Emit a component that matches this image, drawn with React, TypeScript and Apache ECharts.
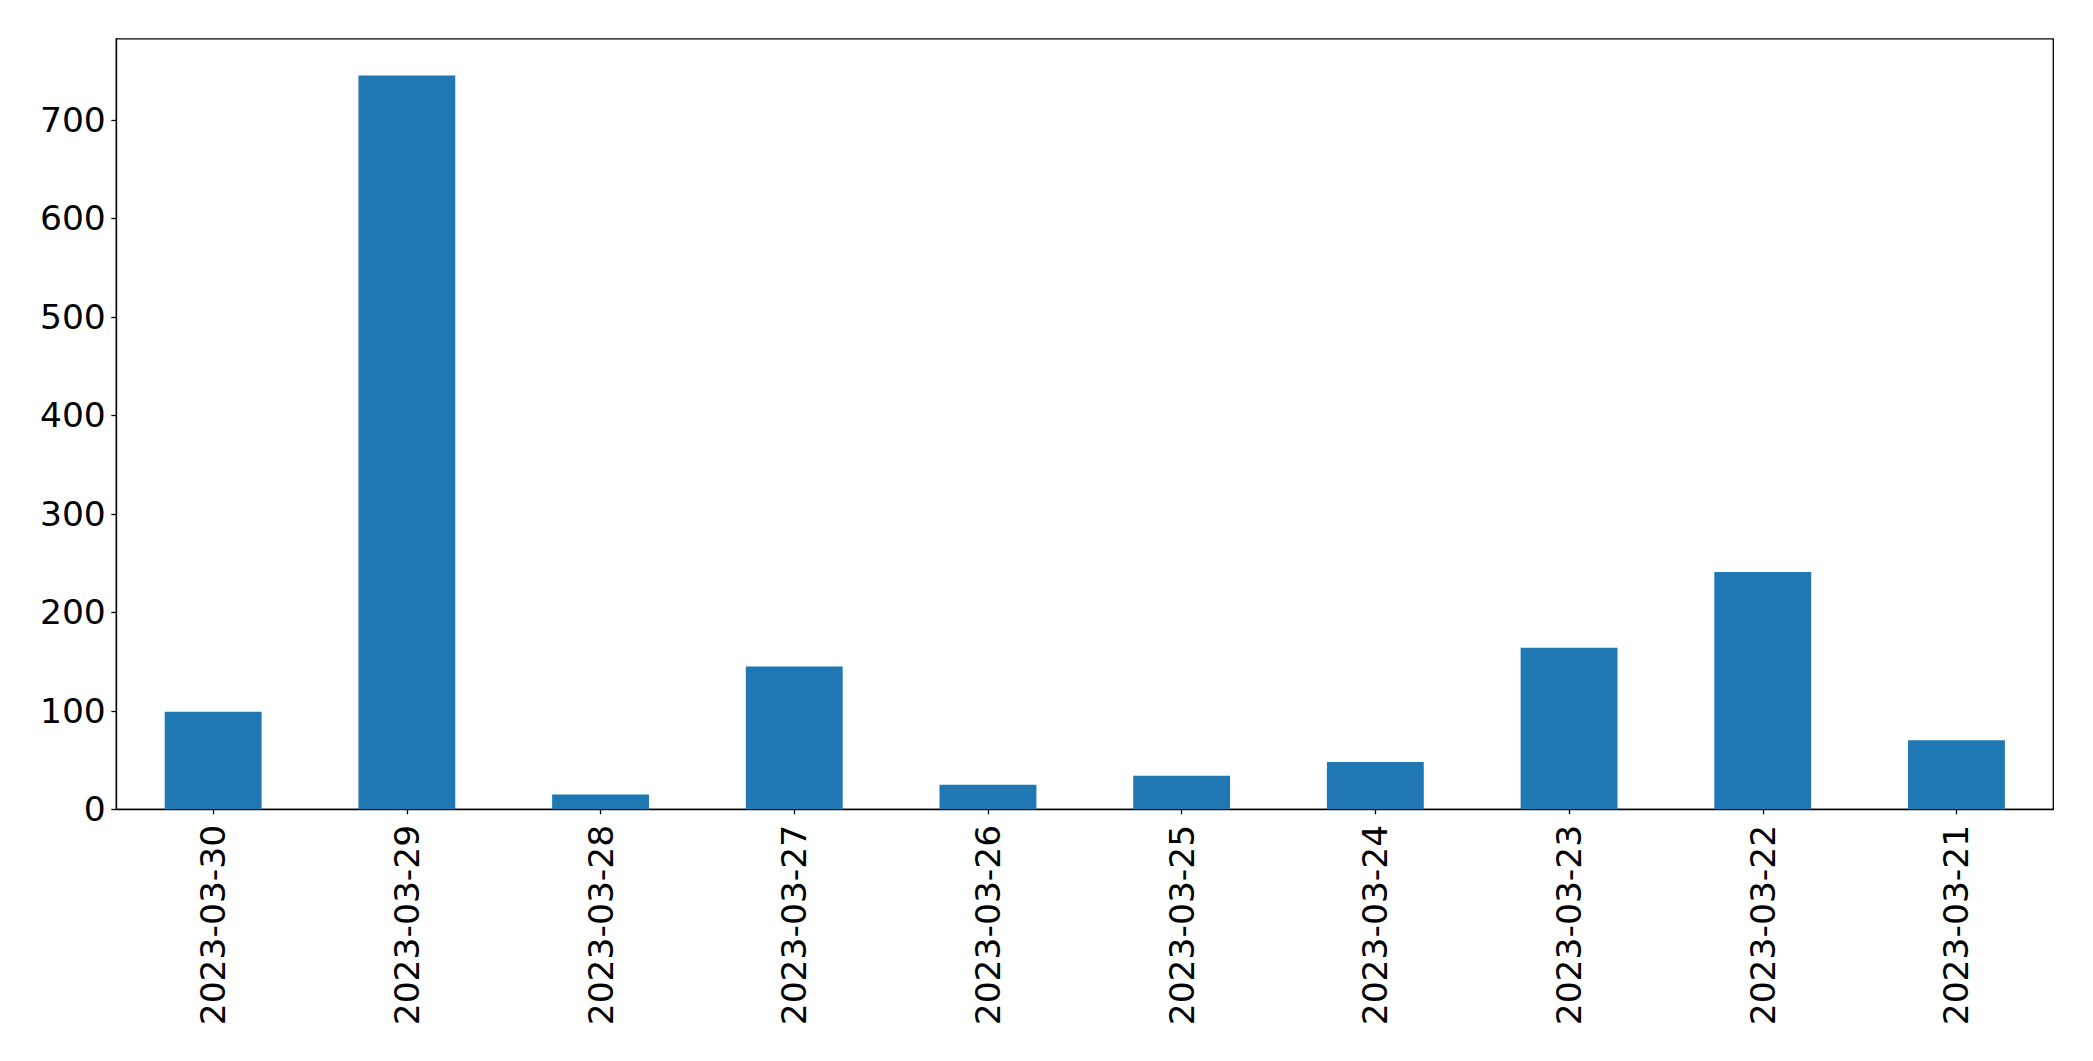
import React, { useEffect, useRef } from "react";
import * as echarts from "echarts";

const categories = [
  "2023-03-30",
  "2023-03-29",
  "2023-03-28",
  "2023-03-27",
  "2023-03-26",
  "2023-03-25",
  "2023-03-24",
  "2023-03-23",
  "2023-03-22",
  "2023-03-21",
];
const values = [99, 745, 15, 145, 25, 34, 48, 164, 241, 70];
const yTicks = [0, 100, 200, 300, 400, 500, 600, 700];
const yMax = 782.25;

export default function App() {
  const ref = useRef<HTMLDivElement>(null);
  useEffect(() => {
    if (!ref.current) return;
    const chart = echarts.init(ref.current, undefined, { renderer: "svg" });
    const font = "DejaVu Sans";
    chart.setOption({
      animation: false,
      backgroundColor: "#ffffff",
      grid: {
        left: 116.3,
        top: 38.8,
        right: 39.7,
        bottom: 251.7,
        show: true,
        borderColor: "#000000",
        borderWidth: 1.3,
        backgroundColor: "transparent",
      },
      xAxis: {
        type: "category",
        data: categories,
        boundaryGap: true,
        axisLine: { show: true, lineStyle: { color: "#000000", width: 1.3 } },
        axisTick: {
          show: true,
          alignWithLabel: true,
          length: 5,
          lineStyle: { color: "#000000", width: 1.3 },
        },
        axisLabel: {
          rotate: 90,
          margin: 15.5,
          color: "#000000",
          fontFamily: font,
          fontSize: 34.5,
        },
        splitLine: { show: false },
      },
      yAxis: {
        type: "value",
        min: 0,
        max: yMax,
        interval: 100,
        axisLine: { show: true, lineStyle: { color: "#000000", width: 1.3 } },
        axisTick: {
          show: true,
          length: 5,
          customValues: yTicks,
          lineStyle: { color: "#000000", width: 1.3 },
        },
        axisLabel: {
          customValues: yTicks,
          margin: 10.5,
          color: "#000000",
          fontFamily: font,
          fontSize: 34.5,
        },
        splitLine: { show: false },
      },
      series: [
        {
          type: "bar",
          data: values,
          barWidth: "50%",
          itemStyle: { color: "#1f77b4" },
        },
      ],
    });
    return () => chart.dispose();
  }, []);
  return (
    <div
      ref={ref}
      style={{ position: "fixed", left: 0, top: 0, width: 2093, height: 1061 }}
    />
  );
}
